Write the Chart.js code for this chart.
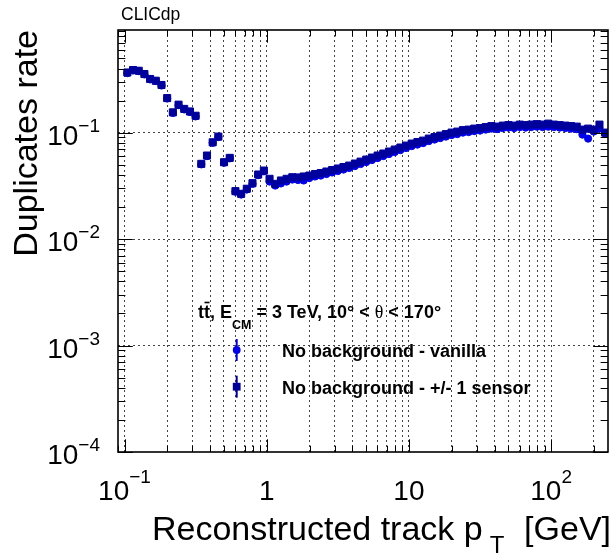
<!DOCTYPE html>
<html>
<head>
<meta charset="utf-8">
<script src="https://cdn.jsdelivr.net/npm/chart.js@4/dist/chart.umd.min.js"></script>
<style>
  html, body { margin: 0; padding: 0; background: #fff; }
  canvas { display: block; }
</style>
</head>
<body>
<canvas id="c" width="614" height="553"></canvas>
<script>
// Log-spaced pT bin centres [GeV]
const binCenters = [
  0.1047, 0.1148, 0.1259, 0.1380, 0.1514, 0.1660, 0.1820, 0.1995, 0.2188, 0.2399,
  0.2630, 0.2884, 0.3162, 0.3467, 0.3802, 0.4169, 0.4571, 0.5012, 0.5495, 0.6026,
  0.6607, 0.7244, 0.7943, 0.8710, 0.9550, 1.047, 1.148, 1.259, 1.380, 1.514,
  1.660, 1.820, 1.995, 2.188, 2.399, 2.630, 2.884, 3.162, 3.467, 3.802,
  4.169, 4.571, 5.012, 5.495, 6.026, 6.607, 7.244, 7.943, 8.710, 9.550,
  10.47, 11.48, 12.59, 13.80, 15.14, 16.60, 18.20, 19.95, 21.88, 23.99,
  26.30, 28.84, 31.62, 34.67, 38.02, 41.69, 45.71, 50.12, 54.95, 60.26,
  66.07, 72.44, 79.43, 87.10, 95.50, 104.7, 114.8, 125.9, 138.0, 151.4,
  166.0, 182.0, 199.5, 218.8, 239.9
];

// Duplicates rate, no background, vanilla reconstruction
const rateVanilla = [
  0.362, 0.383, 0.378, 0.352, 0.316, 0.305, 0.277, 0.209, 0.153, 0.181,
  0.165, 0.156, 0.142, 0.0503, 0.0601, 0.0802, 0.0908, 0.0521, 0.0573, 0.0279,
  0.0262, 0.0292, 0.0330, 0.0398, 0.0433, 0.0347, 0.0318, 0.0333, 0.0347, 0.0362,
  0.0359, 0.0355, 0.0374, 0.0387, 0.0395, 0.0408, 0.0422, 0.0436, 0.0450, 0.0465,
  0.0485, 0.0507, 0.0529, 0.0552, 0.0577, 0.0602, 0.0629, 0.0656, 0.0685, 0.0716,
  0.0747, 0.0772, 0.0797, 0.0832, 0.0860, 0.0888, 0.0917, 0.0948, 0.0968, 0.1000,
  0.1011, 0.1033, 0.1044, 0.1067, 0.1090, 0.1078, 0.1102, 0.1114, 0.1102, 0.1126,
  0.1114, 0.1126, 0.1138, 0.1126, 0.1138, 0.1126, 0.1114, 0.1102, 0.1090, 0.1078,
  0.0958, 0.0878, 0.1022, 0.1090, 0.0979
];

// Duplicates rate, no background, +/- 1 sensor
const rateSensor = [
  0.367, 0.387, 0.381, 0.355, 0.319, 0.307, 0.280, 0.211, 0.155, 0.183,
  0.167, 0.158, 0.144, 0.0509, 0.0609, 0.0811, 0.0917, 0.0527, 0.0579, 0.0282,
  0.0266, 0.0297, 0.0335, 0.0404, 0.0440, 0.0368, 0.0330, 0.0355, 0.0368, 0.0381,
  0.0379, 0.0387, 0.0395, 0.0408, 0.0417, 0.0431, 0.0445, 0.0460, 0.0475, 0.0490,
  0.0512, 0.0534, 0.0558, 0.0583, 0.0609, 0.0636, 0.0664, 0.0693, 0.0724, 0.0755,
  0.0789, 0.0815, 0.0841, 0.0878, 0.0907, 0.0937, 0.0968, 0.1000, 0.1022, 0.1055,
  0.1067, 0.1090, 0.1102, 0.1126, 0.1151, 0.1138, 0.1163, 0.1176, 0.1163, 0.1189,
  0.1176, 0.1189, 0.1201, 0.1189, 0.1214, 0.1189, 0.1176, 0.1163, 0.1151, 0.1138,
  0.1067, 0.1090, 0.1067, 0.1189, 0.1000
];

// Axis decades and their labels (base, exponent)
const xDecades = [0.1, 1, 10, 100];
const xTickLabels = [['10', '\u22121'], ['1', ''], ['10', ''], ['10', '2']];
const yDecades = [1e-4, 1e-3, 1e-2, 1e-1];
const yTickLabels = [['10', '\u22124'], ['10', '\u22123'], ['10', '\u22122'], ['10', '\u22121']];

const X_MIN = 0.09, X_MAX = 251.19;
const Y_MIN = 1e-4, Y_MAX = 0.92;

const COLOR_VANILLA = '#0000ee';
const COLOR_SENSOR = '#00009c';
const FONT = '"Liberation Sans", Arial, Helvetica, sans-serif';

// Every 1..9 x 10^n position inside a range (tick marks and grid)
function logSteps(decades, lo, hi) {
  const out = [];
  for (const d of decades) {
    for (let k = 1; k <= 9; k++) {
      const v = +(k * d).toPrecision(6);
      if (v >= lo && v <= hi) out.push({ value: v, major: k === 1 });
    }
  }
  return out;
}
const xSteps = logSteps([0.01, 0.1, 1, 10, 100], X_MIN, X_MAX);
const ySteps = logSteps([1e-4, 1e-3, 1e-2, 1e-1], Y_MIN, Y_MAX);

function drawPower(ctx, base, exp, x, baseY, size, supSize, align, supRise) {
  ctx.font = size + 'px ' + FONT;
  const wb = ctx.measureText(base).width;
  ctx.font = supSize + 'px ' + FONT;
  const we = exp ? ctx.measureText(exp).width : 0;
  const total = wb + we;
  let x0 = align === 'center' ? x - total / 2 : x - total;
  ctx.textAlign = 'left';
  ctx.textBaseline = 'alphabetic';
  ctx.font = size + 'px ' + FONT;
  ctx.fillText(base, x0, baseY);
  if (exp) {
    ctx.font = supSize + 'px ' + FONT;
    ctx.fillText(exp, x0 + wb, baseY - supRise);
  }
}

const rootStyle = {
  id: 'rootStyle',
  afterDatasetsDraw(chart) {
    const { ctx, chartArea: a, scales: { x, y } } = chart;
    ctx.save();
    ctx.fillStyle = '#000';
    ctx.strokeStyle = '#000';

    // tick marks on all four sides, pointing inwards
    ctx.lineWidth = 1;
    ctx.beginPath();
    for (const t of xSteps) {
      const px = Math.round(x.getPixelForValue(t.value)) + 0.5;
      const len = t.major ? 12.7 : 6.3;
      ctx.moveTo(px, a.bottom); ctx.lineTo(px, a.bottom - len);
      ctx.moveTo(px, a.top); ctx.lineTo(px, a.top + len);
    }
    for (const t of ySteps) {
      const py = Math.round(y.getPixelForValue(t.value)) + 0.5;
      const len = t.major ? 14.8 : 7.4;
      ctx.moveTo(a.left, py); ctx.lineTo(a.left + len, py);
      ctx.moveTo(a.right, py); ctx.lineTo(a.right - len, py);
    }
    ctx.stroke();

    // frame
    ctx.lineWidth = 1.6;
    ctx.strokeRect(a.left, a.top, a.right - a.left, a.bottom - a.top);

    // x tick labels
    xDecades.forEach((v, i) => {
      const px = x.getPixelForValue(v);
      drawPower(ctx, xTickLabels[i][0], xTickLabels[i][1], px, 500, 28, 19, 'center', 17);
    });
    // y tick labels
    yDecades.forEach((v, i) => {
      const py = y.getPixelForValue(v);
      drawPower(ctx, yTickLabels[i][0], yTickLabels[i][1], 100, py + 12, 28, 19, 'right', 13);
    });

    // axis titles
    ctx.textBaseline = 'alphabetic';
    ctx.font = '34px ' + FONT;
    ctx.textAlign = 'left';
    const main = 'Reconstructed track p';
    ctx.fillText(main, 152, 540);
    const pEnd = 152 + ctx.measureText(main).width;
    ctx.textAlign = 'right';
    ctx.fillText('[GeV]', 611, 540);
    ctx.font = '24px ' + FONT;
    ctx.textAlign = 'left';
    ctx.fillText('T', pEnd + 7, 553);

    ctx.save();
    ctx.translate(37, 30);
    ctx.rotate(-Math.PI / 2);
    ctx.font = '34px ' + FONT;
    ctx.textAlign = 'right';
    ctx.fillText('Duplicates rate', 0, 0);
    ctx.restore();

    // experiment tag
    ctx.font = '17.5px ' + FONT;
    ctx.textAlign = 'left';
    ctx.fillText('CLICdp', 121, 20);

    // sample description
    const bold = 'bold 18px ' + FONT;
    let cx = 198;
    const by = 318;
    ctx.font = bold;
    const wt = ctx.measureText('t').width;
    ctx.fillText('tt', cx, by);
    ctx.lineWidth = 1.6;
    ctx.beginPath();
    ctx.moveTo(cx + wt + 0.5, by - 15.5);
    ctx.lineTo(cx + 2 * wt - 0.5, by - 15.5);
    ctx.stroke();
    cx += ctx.measureText('tt').width;
    const s1 = ', E';
    ctx.fillText(s1, cx, by);
    cx += ctx.measureText(s1).width;
    ctx.font = 'bold 12.5px ' + FONT;
    ctx.fillText('CM', cx, by + 11);
    cx += ctx.measureText('CM').width;
    ctx.font = bold;
    const s2 = ' = 3 TeV, 10\u00b0 < ';
    ctx.fillText(s2, cx, by);
    cx += ctx.measureText(s2).width;
    ctx.font = '18px "Liberation Serif", "DejaVu Serif", serif';
    ctx.fillText('\u03b8', cx, by);
    cx += ctx.measureText('\u03b8').width;
    ctx.font = bold;
    ctx.fillText(' < 170\u00b0', cx, by);

    // legend entries
    const mx = 236.7;
    const entries = [
      { y: 350, color: COLOR_VANILLA, shape: 'circle', text: 'No background - vanilla' },
      { y: 386.7, color: COLOR_SENSOR, shape: 'square', text: 'No background - +/- 1 sensor' }
    ];
    for (const e of entries) {
      ctx.strokeStyle = e.color;
      ctx.fillStyle = e.color;
      ctx.lineWidth = 2;
      ctx.beginPath();
      ctx.moveTo(mx, e.y - 11); ctx.lineTo(mx, e.y + 11);
      ctx.stroke();
      ctx.beginPath();
      if (e.shape === 'circle') ctx.arc(mx, e.y, 3.9, 0, Math.PI * 2);
      else ctx.rect(mx - 3.9, e.y - 3.9, 7.8, 7.8);
      ctx.fill();
      ctx.fillStyle = '#000';
      ctx.font = bold;
      ctx.fillText(e.text, 282, e.y + 7);
    }
    ctx.restore();
  }
};

const gridSteps = (lo, hi, decades) => logSteps(decades, lo, hi);

new Chart(document.getElementById('c'), {
  type: 'scatter',
  data: {
    datasets: [
      {
        label: 'No background - +/- 1 sensor',
        data: binCenters.map((v, i) => ({ x: v, y: rateSensor[i] })),
        pointStyle: 'rect',
        pointRadius: 5,
        pointBorderWidth: 1,
        backgroundColor: COLOR_SENSOR,
        borderColor: COLOR_SENSOR,
        order: 0
      },
      {
        label: 'No background - vanilla',
        data: binCenters.map((v, i) => ({ x: v, y: rateVanilla[i] })),
        pointStyle: 'circle',
        pointRadius: 3.6,
        pointBorderWidth: 1,
        backgroundColor: COLOR_VANILLA,
        borderColor: COLOR_VANILLA,
        order: 1
      }
    ]
  },
  options: {
    responsive: false,
    animation: false,
    devicePixelRatio: 1,
    layout: { padding: { left: 118, right: 4, top: 30, bottom: 101 } },
    plugins: { legend: { display: false }, tooltip: { enabled: false } },
    scales: {
      x: {
        type: 'logarithmic',
        min: X_MIN,
        max: X_MAX,
        afterBuildTicks: s => { s.ticks = gridSteps(0.1, 250, [0.1, 1, 10, 100]).map(t => ({ value: t.value })); },
        ticks: { display: false },
        grid: { color: '#444', lineWidth: 1, drawTicks: false },
        border: { display: false, dash: [2, 3] }
      },
      y: {
        type: 'logarithmic',
        min: Y_MIN,
        max: Y_MAX,
        afterBuildTicks: s => { s.ticks = [1e-3, 1e-2, 1e-1].map(v => ({ value: v })); },
        ticks: { display: false },
        grid: { color: '#444', lineWidth: 1, drawTicks: false },
        border: { display: false, dash: [2, 3] }
      }
    }
  },
  plugins: [rootStyle]
});
</script>
</body>
</html>
